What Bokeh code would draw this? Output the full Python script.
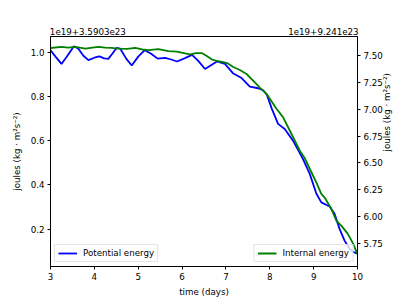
import math
from bokeh.plotting import figure
from bokeh.models import (Range1d, LinearAxis, FixedTicker, PrintfTickFormatter,
                          Legend, LegendItem)
from bokeh.embed import file_html
from bokeh.resources import INLINE

# ---- data ----
time_pe = [3.000, 3.114, 3.250, 3.386, 3.534, 3.636, 3.750, 3.864, 4.000, 4.114,
           4.227, 4.318, 4.409, 4.511, 4.591, 4.727, 4.852, 5.000, 5.148, 5.295,
           5.443, 5.614, 5.750, 5.886, 6.068, 6.227, 6.364, 6.523, 6.659, 6.795,
           6.977, 7.159, 7.357, 7.545, 7.734, 7.848, 7.932, 8.045, 8.189, 8.341,
           8.530, 8.757, 8.909, 9.061, 9.175, 9.364, 9.477, 9.591, 9.705, 9.818,
           9.909, 10.000]
potential = [1.009, 0.980, 0.947, 0.984, 1.027, 1.016, 0.984, 0.964, 0.975, 0.981,
             0.972, 0.970, 0.993, 1.020, 1.016, 0.971, 0.940, 0.980, 1.009, 0.993,
             0.971, 0.974, 0.967, 0.958, 0.973, 0.988, 0.962, 0.924, 0.941, 0.958,
             0.947, 0.905, 0.883, 0.844, 0.837, 0.828, 0.808, 0.745, 0.676, 0.653,
             0.600, 0.517, 0.451, 0.361, 0.321, 0.302, 0.269, 0.201, 0.148, 0.111,
             0.096, 0.089]

time_ie = [3.000, 3.250, 3.409, 3.568, 3.795, 3.955, 4.091, 4.250, 4.386, 4.545,
           4.750, 4.932, 5.091, 5.234, 5.461, 5.689, 5.880, 6.068, 6.182, 6.318,
           6.448, 6.545, 6.675, 6.795, 6.939, 7.045, 7.166, 7.318, 7.470, 7.620,
           7.773, 7.925, 8.152, 8.302, 8.455, 8.682, 8.795, 8.984, 9.061, 9.175,
           9.250, 9.402, 9.516, 9.630, 9.780, 9.893, 10.000]
internal = [7.570, 7.581, 7.574, 7.581, 7.565, 7.574, 7.581, 7.574, 7.572, 7.565,
            7.562, 7.572, 7.556, 7.551, 7.559, 7.540, 7.537, 7.519, 7.511, 7.523,
            7.523, 7.500, 7.465, 7.449, 7.439, 7.426, 7.393, 7.365, 7.328, 7.267,
            7.202, 7.143, 7.004, 6.926, 6.802, 6.616, 6.546, 6.383, 6.320, 6.212,
            6.178, 6.073, 5.964, 5.917, 5.840, 5.754, 5.652]

x_ticks = [3, 4, 5, 6, 7, 8, 9, 10]
left_ticks = [0.2, 0.4, 0.6, 0.8, 1.0]
right_ticks = [5.75, 6.0, 6.25, 6.5, 6.75, 7.0, 7.25, 7.5]
left_offset_text = "1e19+3.5903e23"
right_offset_text = "1e19+9.241e23"
y_label = "joules (kg · m²s⁻²)"
x_label = "time (days)"

FONT = "DejaVu Sans"
FS = "8.7px"

p = figure(width=399, height=299, output_backend="svg", toolbar_location=None,
           x_range=Range1d(3, 10), y_range=Range1d(0.031, 1.071),
           min_border_left=50, min_border_right=41, min_border_top=36,
           min_border_bottom=33)
p.xgrid.visible = False
p.ygrid.visible = False
p.outline_line_color = "black"
p.outline_line_width = 1
p.background_fill_color = "white"
p.border_fill_color = "white"

p.extra_y_ranges = {"ie": Range1d(5.536, 7.677)}
raxis = LinearAxis(y_range_name="ie")
p.add_layout(raxis, "right")


def style_axis(ax):
    ax.axis_line_color = "black"
    ax.major_tick_line_color = "black"
    ax.minor_tick_line_color = None
    ax.major_tick_in = 0
    ax.major_tick_out = 3
    ax.major_label_standoff = 3
    ax.major_label_text_font = FONT
    ax.major_label_text_font_size = FS
    ax.major_label_text_color = "black"
    ax.axis_label_text_font = FONT
    ax.axis_label_text_font_size = FS
    ax.axis_label_text_font_style = "normal"
    ax.axis_label_text_color = "black"
    ax.axis_label_standoff = 4


xaxis = p.xaxis[0]
laxis = p.yaxis[0]
for ax in (xaxis, laxis, raxis):
    style_axis(ax)

xaxis.ticker = FixedTicker(ticks=x_ticks)
xaxis.axis_label = x_label
laxis.ticker = FixedTicker(ticks=left_ticks)
laxis.formatter = PrintfTickFormatter(format="%.1f")
laxis.axis_label = y_label
laxis.axis_label_standoff = 6
raxis.ticker = FixedTicker(ticks=right_ticks)
raxis.formatter = PrintfTickFormatter(format="%.2f")
raxis.axis_label = y_label
raxis.axis_label_orientation = math.pi / 2
raxis.axis_label_standoff = 1

# offset texts above the frame (matplotlib-style axis offsets)
left_pos, right_pos = 3.852, 9.223
taxis = LinearAxis(ticker=FixedTicker(ticks=[left_pos, right_pos]),
                   major_label_overrides={left_pos: left_offset_text,
                                          right_pos: right_offset_text})
taxis.axis_line_color = None
taxis.major_tick_line_color = None
taxis.minor_tick_line_color = None
taxis.major_tick_in = 0
taxis.major_tick_out = 0
taxis.major_label_standoff = 2
taxis.major_label_text_font = FONT
taxis.major_label_text_font_size = FS
taxis.major_label_text_color = "black"
p.add_layout(taxis, "above")

r1 = p.line(time_pe, potential, line_color="blue", line_width=1.8)
r2 = p.line(time_ie, internal, line_color="green", line_width=1.8, y_range_name="ie")


def make_legend(label, rend, loc):
    lg = Legend(items=[LegendItem(label=label, renderers=[rend])], location=loc)
    lg.label_text_font = FONT
    lg.label_text_font_size = FS
    lg.label_text_color = "black"
    lg.padding = 3
    lg.margin = 4
    lg.spacing = 0
    lg.glyph_width = 19
    lg.glyph_height = 10
    lg.label_height = 10
    lg.label_standoff = 6
    lg.border_line_color = "#cccccc"
    lg.border_line_width = 1
    lg.background_fill_color = "white"
    lg.background_fill_alpha = 0.8
    return lg


p.add_layout(make_legend("Potential energy", r1, "bottom_left"))
p.add_layout(make_legend("Internal energy", r2, "bottom_right"))

open("out.html", "w").write(file_html(p, INLINE))
